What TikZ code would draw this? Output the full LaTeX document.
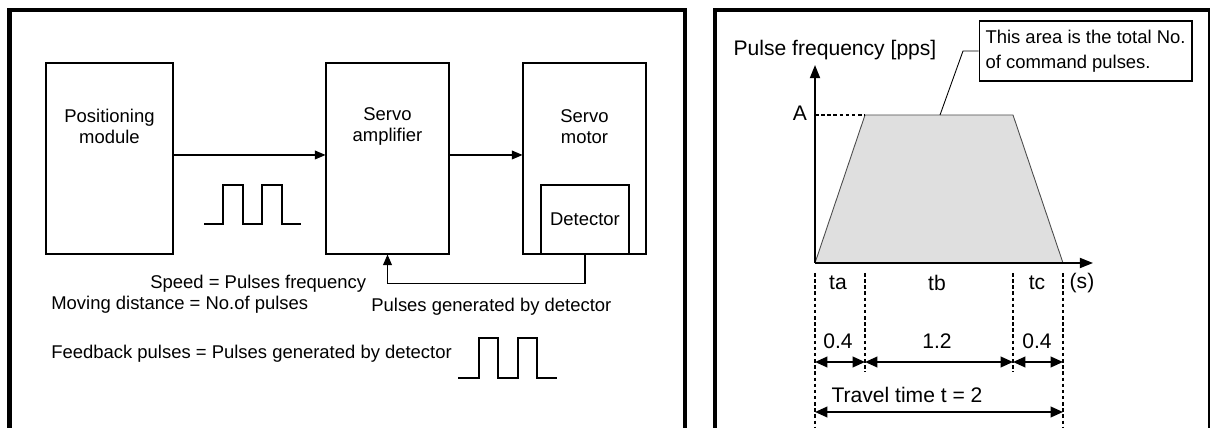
\documentclass[tikz,border=0pt]{standalone}
\usepackage{fontspec}
\setmainfont{Liberation Sans}
\usetikzlibrary{arrows.meta}

\begin{document}
\begin{tikzpicture}[x=0.02cm, y=-0.02cm,
  every node/.style={inner sep=0pt},
  panel/.style={line width=2.3pt},
  blockbox/.style={draw, line width=0.6pt, minimum width=2.46cm, minimum height=3.82cm},
  blocktext/.style={align=center, font=\fontsize{10.5}{12}\selectfont},
  note/.style={anchor=west, font=\fontsize{10.5}{12}\selectfont},
  sig/.style={line width=0.6pt},
  flow/.style={line width=0.6pt, -{Triangle[length=6pt,width=5pt]}},
  axis/.style={line width=1.1pt, -{Triangle[length=7.5pt,width=5.7pt]}},
  lbl/.style={font=\fontsize{12}{14}\selectfont},
  callout/.style={draw, line width=0.6pt, align=left, inner xsep=3.4pt,
    minimum width=4.26cm, minimum height=1.2cm, font=\fontsize{10.5}{14.2}\selectfont},
  guide/.style={line width=0.6pt, dash pattern=on 2pt off 1.5pt},
  dim/.style={line width=1.1pt, {Triangle[length=7pt,width=6pt]}-{Triangle[length=7pt,width=6pt]}}]
  \useasboundingbox (0,0) rectangle (1210,428);
  % frames
  \draw[panel] (9.5,430) -- (9.5,10) -- (685,10) -- (685,430);
  \draw[panel] (715,430) -- (715,10) -- (1210.5,10) -- (1210.5,430);
  % servo loop
  \node[blockbox, minimum width=2.54cm] (posmod) at (109.5,158.5) {};
  \node[blockbox] (amp) at (387.5,158.5) {};
  \node[blockbox] (motor) at (584.5,158.5) {};
  \node[blocktext, draw, line width=0.6pt, minimum width=1.76cm, minimum height=1.38cm] (det) at (585,219.5) {Detector};
  \node[blocktext] (posmodtxt) at (109.5,126.5) {Positioning\\module};
  \node[blocktext] (amptxt) at (387.5,126.5) {Servo\\amplifier};
  \node[blocktext] (motortxt) at (584.5,126.5) {Servo\\motor};
  \draw[flow] ([yshift=2pt]posmod.east) -- ([yshift=2pt]amp.west);
  \draw[flow] ([yshift=2pt]amp.east) -- ([yshift=2pt]motor.west);
  \draw[flow] (det.south) -- ++(0,29) -| (amp.south);
  \draw[sig] (204,224) -- ++(19,0) -- ++(0,-39) -- ++(20,0) -- ++(0,39) -- ++(19,0) -- ++(0,-39) -- ++(20,0) -- ++(0,39) -- ++(19,0);
  \draw[sig] (458,378) -- ++(21,0) -- ++(0,-40) -- ++(19,0) -- ++(0,40) -- ++(20,0) -- ++(0,-40) -- ++(19,0) -- ++(0,40) -- ++(20,0);
  \node[note] (speed) at (150,284) {Speed = Pulses frequency};
  \node[note] (dist) at (51,305) {Moving distance = No.of pulses};
  \node[note] (gen) at (371,307) {Pulses generated by detector};
  \node[note] (fb) at (51,354) {Feedback pulses = Pulses generated by detector};
  % speed profile
  \coordinate (O) at (815,263);
  \coordinate (ta) at (865,115);
  \coordinate (tb) at (1013,115);
  \coordinate (tc) at (1063,263);
  \fill[gray!25] (O) -- (ta) -- (tb) -- (tc) -- cycle;
  \draw[line width=0.5pt, black!70] (O) -- (ta) -- (tb) -- (tc);
  \draw[axis] (O) -- (815,65);
  \draw[axis] (O) -- (1093,263);
  \draw[guide] (815,115) -- (ta);
  \node[lbl] (A) at (800,113) {A};
  \node[lbl] (ylab) at (835,50) {Pulse frequency [pps]};
  \node[callout] (area) at (1085.5,51) {This area is the total No.\\of command pulses.};
  \coordinate (areapt) at (940,115);
  \draw[line width=0.5pt] (area.west) -- (963,51) -- (areapt);
  \draw[guide] (815,273) -- (815,430);
  \draw[guide] (865,273) -- (865,372);
  \draw[guide] (1013,273) -- (1013,372);
  \draw[guide] (1063,273) -- (1063,430);
  \node[lbl] (lta) at (838,283) {ta};
  \node[lbl] (ltb) at (937,283) {tb};
  \node[lbl] (ltc) at (1037,283) {tc};
  \node[lbl] (ls) at (1082,283) {(s)};
  \node[lbl] (va) at (838,341) {0.4};
  \node[lbl] (vb) at (937,341) {1.2};
  \node[lbl] (vc) at (1037,341) {0.4};
  \coordinate (d0) at (815,362);
  \coordinate (d1) at (865,362);
  \coordinate (d2) at (1013,362);
  \coordinate (d3) at (1063,362);
  \draw[dim] (d0) -- (d1);
  \draw[dim] (d1) -- (d2);
  \draw[dim] (d2) -- (d3);
  \node[lbl] (travel) at (907,395) {Travel time t = 2};
  \coordinate (t0) at (815,412);
  \coordinate (t1) at (1063,412);
  \draw[dim] (t0) -- (t1);
\end{tikzpicture}
\end{document}
